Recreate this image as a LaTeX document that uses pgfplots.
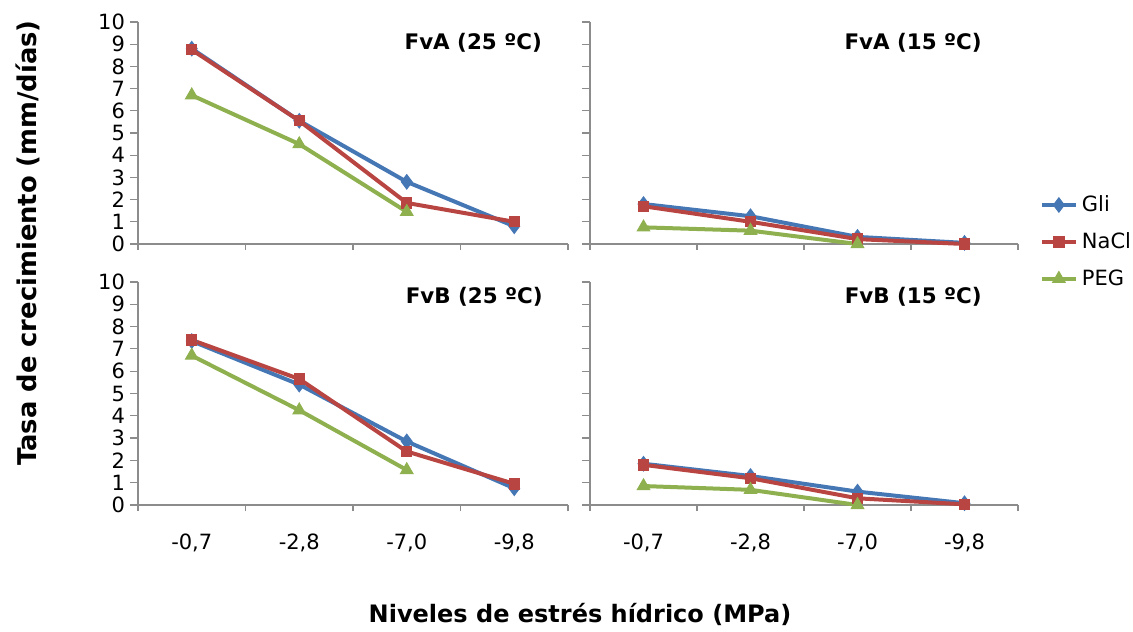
\documentclass[border=0pt]{standalone}
\usepackage{fontspec}
\setmainfont{DejaVu Sans}
\usepackage{pgfplots}
\pgfplotsset{compat=1.18}
\definecolor{cgli}{HTML}{4677B5}
\definecolor{cnacl}{HTML}{B84542}
\definecolor{cpeg}{HTML}{8FB04E}
\definecolor{caxis}{HTML}{8C8C8C}
\pgfplotsset{
  panel/.style={
    scale only axis, anchor=south west,
    axis x line*=bottom, axis y line*=left,
    xmin=-0.5, xmax=3.5, ymin=0, ymax=10,
    xtick={0,1,2,3},
    minor xtick={-0.5,0.5,1.5,2.5,3.5},
    ytick={0,1,...,10},
    tick align=outside,
    major tick length=4pt, minor tick length=3pt,
    major x tick style={draw=none},
    tick style={color=caxis, line width=0.6pt},
    axis line style={color=caxis, line width=0.6pt},
    clip=false,
    /pgf/number format/assume math mode=true,
    ticklabel style={font=\fontsize{10.5}{12}\selectfont},
    xticklabel style={yshift=-7pt},
    yticklabel style={xshift=1pt},
  },
  gli/.style={cgli, line width=2pt, mark=diamond*, mark size=3.6pt, mark options={fill=cgli, line width=0.5pt}},
  nacl/.style={cnacl, line width=2pt, mark=square*, mark size=2.6pt, mark options={fill=cnacl, line width=0.5pt}},
  peg/.style={cpeg, line width=2pt, mark=triangle*, mark size=3.6pt, mark options={fill=cpeg, line width=0.5pt}},
}
\newcommand{\ptitle}[1]{{\fontsize{10.7}{12}\selectfont\bfseries #1}}
\begin{document}
\begin{tikzpicture}
\path[use as bounding box] (0,0) rectangle (566.5pt,315.5pt);
% top-left FvA 25
\begin{axis}[panel, at={(69pt,193.5pt)}, width=215pt, height=111pt, xticklabels={}]
\addplot[gli] coordinates {(0,8.8) (1,5.55) (2,2.8) (3,0.8)};
\addplot[nacl] coordinates {(0,8.75) (1,5.55) (2,1.85) (3,1.0)};
\addplot[peg] coordinates {(0,6.7) (1,4.5) (2,1.45)};
\node[anchor=east, inner sep=0pt] at (rel axis cs:0.94,0.905) {\ptitle{FvA (25 ºC)}};
\end{axis}
% top-right FvA 15
\begin{axis}[panel, at={(295pt,193.5pt)}, width=214pt, height=111pt, xticklabels={}, yticklabels={},
  legend style={draw=none, fill=none, at={(1.05,0.01)}, anchor=west, font=\fontsize{10.5}{12}\selectfont, row sep=5pt, inner sep=0pt},
  legend cell align=left]
\addplot[gli] coordinates {(0,1.8) (1,1.25) (2,0.32) (3,0.05)};
\addplot[nacl] coordinates {(0,1.7) (1,1.0) (2,0.22) (3,0.0)};
\addplot[peg] coordinates {(0,0.75) (1,0.6) (2,0.0)};
\legend{Gli,NaCl,PEG}
\node[anchor=east, inner sep=0pt] at (rel axis cs:0.916,0.905) {\ptitle{FvA (15 ºC)}};
\end{axis}
% bottom-left FvB 25
\begin{axis}[panel, at={(69pt,63pt)}, width=215pt, height=111.5pt, xticklabels={{-0,7},{-2,8},{-7,0},{-9,8}}]
\addplot[gli] coordinates {(0,7.35) (1,5.4) (2,2.85) (3,0.75)};
\addplot[nacl] coordinates {(0,7.4) (1,5.65) (2,2.4) (3,0.95)};
\addplot[peg] coordinates {(0,6.7) (1,4.25) (2,1.57)};
\node[anchor=east, inner sep=0pt] at (rel axis cs:0.942,0.933) {\ptitle{FvB (25 ºC)}};
\end{axis}
% bottom-right FvB 15
\begin{axis}[panel, at={(295pt,63pt)}, width=214pt, height=111.5pt, yticklabels={}, xticklabels={{-0,7},{-2,8},{-7,0},{-9,8}}]
\addplot[gli] coordinates {(0,1.85) (1,1.3) (2,0.6) (3,0.08)};
\addplot[nacl] coordinates {(0,1.8) (1,1.2) (2,0.3) (3,0.03)};
\addplot[peg] coordinates {(0,0.85) (1,0.68) (2,0.0)};
\node[anchor=east, inner sep=0pt] at (rel axis cs:0.916,0.933) {\ptitle{FvB (15 ºC)}};
\end{axis}
\node[rotate=90] at (14pt,194pt) {\fontsize{12.9}{14}\selectfont\bfseries Tasa de crecimiento (mm/días)};
\node at (290pt,8.5pt) {\fontsize{12}{14}\selectfont\bfseries Niveles de estrés hídrico (MPa)};
\end{tikzpicture}
\end{document}
